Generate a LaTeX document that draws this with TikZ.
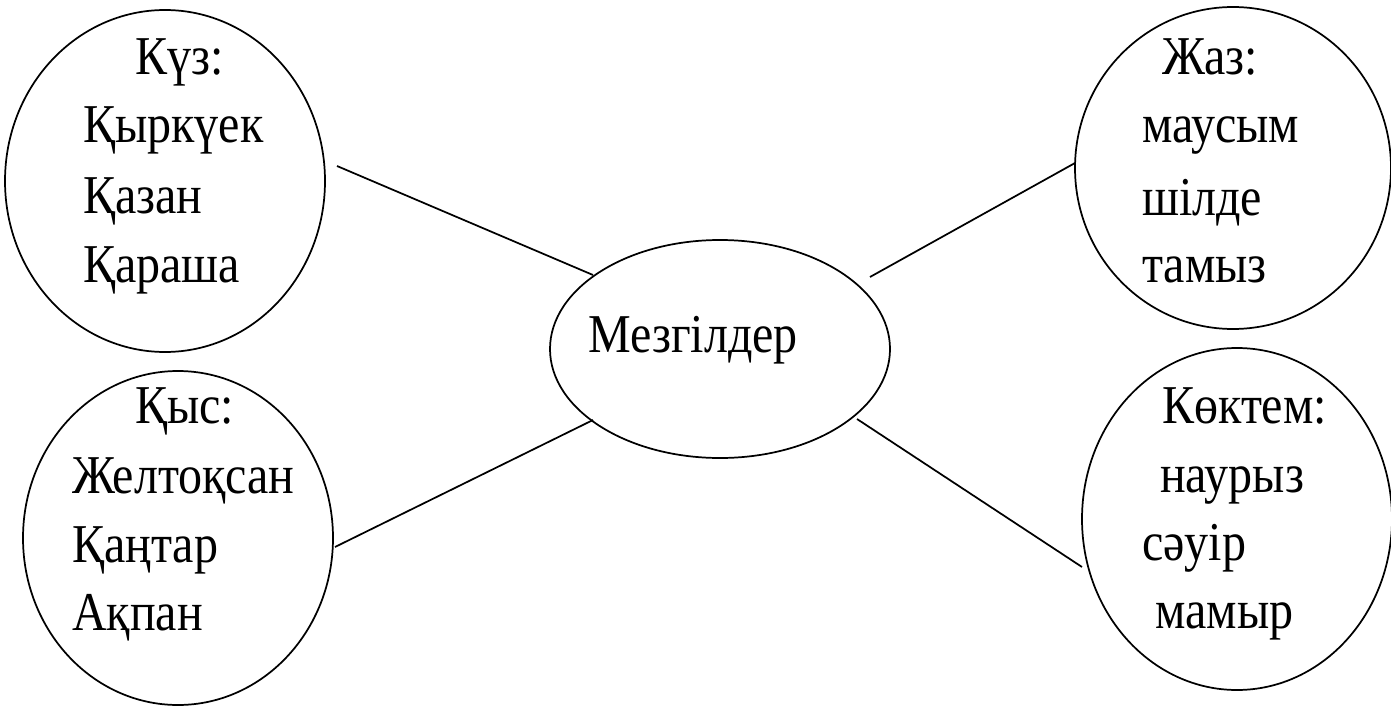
\documentclass[tikz,border=0pt]{standalone}
\usepackage{fontspec}
\setmainfont{Liberation Serif}
\usetikzlibrary{shapes.geometric}
\newcommand{\tallt}[1]{\scalebox{1}[1.14]{#1}}
\begin{document}
\begin{tikzpicture}[x=0.75pt,y=-0.75pt,
  oval/.style={draw,ellipse,line width=1.3pt,inner sep=0pt},
  lbl/.style={anchor=base west,inner sep=0pt,font=\fontsize{36}{43}\selectfont},
  link/.style={line width=1.3pt}]
\useasboundingbox (0,0) rectangle (1391,706);
% ellipses
\node[oval,minimum width=240pt,minimum height=256.5pt] (kuz) at (165,181) {};
\node[oval,minimum width=232.5pt,minimum height=250.5pt] (kys) at (178,538) {};
\node[oval,minimum width=237pt,minimum height=241.5pt] (zhaz) at (1233,168) {};
\node[oval,minimum width=232.5pt,minimum height=256.5pt] (koktem) at (1237,519) {};
\node[oval,minimum width=255pt,minimum height=163.5pt] (mez) at (720,349) {};
% texts
\node[lbl] (t1) at (135,75) {\tallt{Күз:}};
\node[lbl] (t2) at (83,143) {\tallt{Қыркүек}};
\node[lbl] (t3) at (83,213) {\tallt{Қазан}};
\node[lbl] (t4) at (83,282) {\tallt{Қараша}};
\node[lbl] (t5) at (135,423) {\tallt{Қыс:}};
\node[lbl] (t6) at (72,493) {\tallt{Желтоқсан}};
\node[lbl] (t7) at (72,562) {\tallt{Қаңтар}};
\node[lbl] (t8) at (72,630) {\tallt{Ақпан}};
\node[lbl] (t9) at (1162,75) {\tallt{Жаз:}};
\node[lbl] (t10) at (1142,143) {\tallt{маусым}};
\node[lbl] (t11) at (1142,215) {\tallt{шілде}};
\node[lbl] (t12) at (1142,282) {\tallt{тамыз}};
\node[lbl] (t13) at (1162,423) {\tallt{Көктем:}};
\node[lbl] (t14) at (1160,492) {\tallt{наурыз}};
\node[lbl] (t15) at (1142,560) {\tallt{сәуір}};
\node[lbl] (t16) at (1155,628) {\tallt{мамыр}};
\node[lbl] (t0) at (588,352) {\tallt{Мезгілдер}};
% connector ends
\coordinate (a1) at (337,166);
\coordinate (b1) at (593,275);
\coordinate (a2) at (335,547);
\coordinate (b2) at (593,420);
\coordinate (a3) at (1075,163);
\coordinate (b3) at (870,277);
\coordinate (a4) at (1082,567);
\coordinate (b4) at (857,419);
\draw[link] (a1) -- (b1);
\draw[link] (a2) -- (b2);
\draw[link] (a3) -- (b3);
\draw[link] (a4) -- (b4);
\end{tikzpicture}
\end{document}
